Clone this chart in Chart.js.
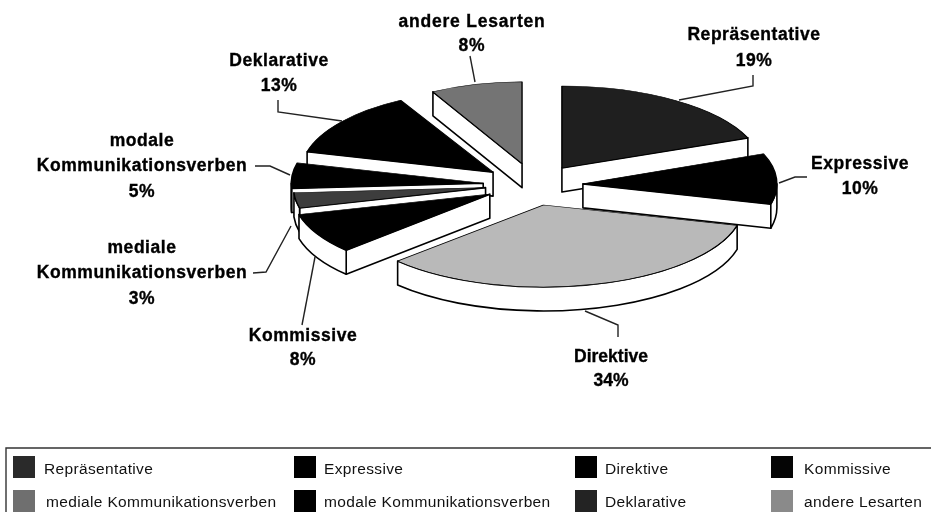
<!DOCTYPE html>
<html><head><meta charset="utf-8">
<style>html,body{margin:0;padding:0;background:#fff;overflow:hidden}canvas{display:block;filter:blur(0.45px)}</style>
<script src="https://cdn.jsdelivr.net/npm/chart.js@4/dist/chart.umd.min.js"></script>
</head><body>
<canvas id="c" width="931" height="512"></canvas>
<script>
const categories = ["Repräsentative","Expressive","Direktive","Kommissive","mediale Kommunikationsverben","modale Kommunikationsverben","Deklarative","andere Lesarten"];
const shares = [19,10,34,8,3,5,13,8];
const sliceColors = ["#1f1f1f","#000000","#b9b9b9","#000000","#3d3d3d","#000000","#000000","#747474"];
const legendColors = ["#2a2a2a","#000000","#000000","#050505","#6f6f6f","#000000","#232323","#8a8a8a"];
const explodeX = [55,52,50,47,46,48,48,36];
const explodeY = [20.5,18,20.6,19,17,18,21,22];
const widen = [1,0.97,1,0.985,0.96,0.96,0.96,0.925];
const drawOrder = [7,0,6,5,4,3,1,2];
const TILT = 0.41, DEPTH = 24;

const pieLabels = [
 {lines:["Repräsentative","19%"],x:754,y:[35,61],ls:0.55},
 {lines:["Expressive","10%"],x:860,y:[164,189],ls:0.55},
 {lines:["Direktive","34%"],x:611,y:[357,381],ls:0},
 {lines:["Kommissive","8%"],x:303,y:[336,360],ls:0.55},
 {lines:["mediale","Kommunikationsverben","3%"],x:142,y:[248,273,299],ls:0.55},
 {lines:["modale","Kommunikationsverben","5%"],x:142,y:[141,166,192],ls:0.55},
 {lines:["Deklarative","13%"],x:279,y:[61,86],ls:0.55},
 {lines:["andere Lesarten","8%"],x:472,y:[22,46],ls:0.8}
];
const leaders = [
 [[753,75],[753,86],[679,100]],
 [[807,177],[795,177],[779,183]],
 [[618,337],[618,325],[585,311]],
 [[302,325],[315,257]],
 [[253,273],[266,272],[291,226]],
 [[255,166],[270,166],[290,175]],
 [[278,100],[278,112],[342,121]],
 [[470,56],[475,82]]
];
const legendCols = [{sw:13,tx:44},{sw:294,tx:324},{sw:575,tx:605},{sw:771,tx:804}];
const legendRows = [{sw:456,ty:470},{sw:490,ty:503}];

const pie3d = {
 id:'pie3d',
 beforeDatasetsDraw(chart){
  const ctx = chart.ctx, arcs = chart.getDatasetMeta(0).data;
  drawOrder.forEach(i=>{
   const el = arcs[i], R = el.outerRadius*widen[i], a0 = el.startAngle, a1 = el.endAngle;
   const Ry = el.outerRadius*TILT;
   const mid = (a0+a1)/2;
   const cx = el.x + Math.cos(mid)*explodeX[i];
   const cy = el.y + Math.sin(mid)*explodeY[i];
   const P = a=>[cx+R*Math.cos(a), cy+Ry*Math.sin(a)];
   ctx.save();
   ctx.fillStyle='#fff';ctx.strokeStyle='#000';ctx.lineWidth=1.6;ctx.lineJoin='round';
   const radial = a=>{
     const p=P(a);
     ctx.beginPath();ctx.moveTo(cx,cy);ctx.lineTo(p[0],p[1]);ctx.lineTo(p[0],p[1]+DEPTH);ctx.lineTo(cx,cy+DEPTH);ctx.closePath();ctx.fill();ctx.stroke();
   };
   if(Math.sin(a0-Math.PI/2)>0.001) radial(a0);
   if(Math.sin(a1+Math.PI/2)>0.001) radial(a1);
   const f0=Math.max(a0,0), f1=Math.min(a1,Math.PI);
   if(f1>f0){
     ctx.beginPath();
     ctx.ellipse(cx,cy,R,Ry,0,f0,f1);
     ctx.ellipse(cx,cy+DEPTH,R,Ry,0,f1,f0,true);
     ctx.closePath();ctx.fill();ctx.stroke();
   }
   ctx.translate(cx,cy);ctx.scale(widen[i],TILT);ctx.translate(-el.x,-el.y);
   el.draw(ctx);
   ctx.restore();
  });
  return false;
 },
 afterDraw(chart){
  const ctx = chart.ctx;
  ctx.save();
  ctx.strokeStyle='#222';ctx.lineWidth=1.4;
  leaders.forEach(l=>{ctx.beginPath();l.forEach((p,i)=>i?ctx.lineTo(p[0],p[1]):ctx.moveTo(p[0],p[1]));ctx.stroke();});
  ctx.fillStyle='#000';ctx.strokeStyle='#000';ctx.lineWidth=0.35;ctx.textAlign='center';ctx.textBaseline='middle';
  ctx.font='bold 17.5px "Liberation Sans", Arial, sans-serif';
  pieLabels.forEach(l=>{
    ctx.letterSpacing=l.ls+'px';
    l.lines.forEach((t,i)=>{ctx.fillText(t,l.x,l.y[i]);ctx.strokeText(t,l.x,l.y[i]);});
  });
  ctx.strokeStyle='#333';ctx.lineWidth=1.4;
  ctx.beginPath();ctx.moveTo(6,512);ctx.lineTo(6,448);ctx.lineTo(931,448);ctx.stroke();
  ctx.textAlign='left';ctx.font='15.5px "Liberation Sans", Arial, sans-serif';
  ctx.letterSpacing='0.35px';
  categories.forEach((name,i)=>{
    const col=legendCols[i%4], row=legendRows[Math.floor(i/4)];
    ctx.fillStyle=legendColors[i];ctx.fillRect(col.sw,row.sw,22,22);
    ctx.fillStyle='#111';ctx.fillText(name,col.tx+(i===4?2:0),row.ty);
  });
  ctx.restore();
 }
};

new Chart(document.getElementById('c'),{
 type:'pie',
 data:{labels:categories,datasets:[{data:shares,backgroundColor:sliceColors,borderColor:'#000',borderWidth:1.5,clip:false}]},
 options:{
  responsive:false,animation:false,radius:200,
  layout:{padding:{left:131,right:0,top:0,bottom:142}},
  plugins:{legend:{display:false},tooltip:{enabled:false},title:{display:false}}
 },
 plugins:[pie3d]
});
</script>
</body></html>
